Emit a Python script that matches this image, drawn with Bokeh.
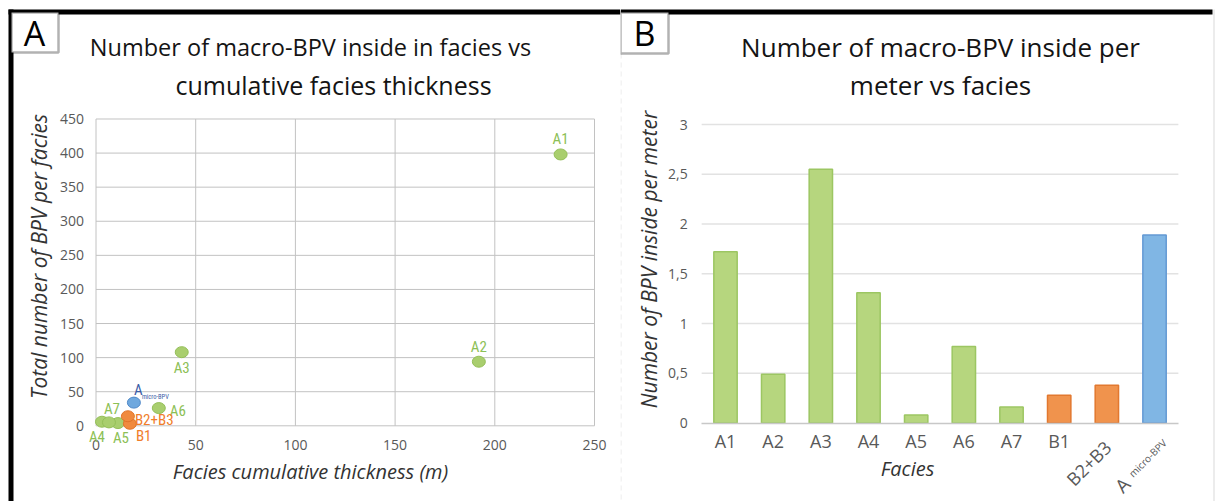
from bokeh.plotting import figure
from bokeh.layouts import row
from bokeh.models import (ColumnDataSource, Label, BoxAnnotation, FixedTicker,
                          Range1d, CustomJSTickFormatter)
from bokeh.embed import file_html
from bokeh.resources import INLINE

# ---------------- data ----------------
# Panel A : total number of macro-BPV vs cumulative facies thickness
facies_a = ["A1", "A2", "A3", "A4", "A5", "A6", "A7", "B1", "B2+B3", "A"]
thickness_m = [233, 192, 43, 3, 11, 31.5, 6.5, 17, 16, 19]
bpv_total = [398, 94, 108, 6, 4, 26, 5, 3, 14, 34]
group_a = ["A", "A", "A", "A", "A", "A", "A", "B", "B", "micro"]

# Panel B : number of macro-BPV per meter, by facies
facies_b = ["A1", "A2", "A3", "A4", "A5", "A6", "A7", "B1", "B2+B3", "A micro-BPV"]
bpv_per_meter = [1.72, 0.49, 2.55, 1.31, 0.08, 0.77, 0.16, 0.28, 0.38, 1.89]
group_b = ["A", "A", "A", "A", "A", "A", "A", "B", "B", "micro"]

x_ticks_a = [0, 50, 100, 150, 200, 250]
y_ticks_a = [0, 50, 100, 150, 200, 250, 300, 350, 400, 450]
y_ticks_b = [0, 0.5, 1, 1.5, 2, 2.5, 3]

title_a = ["Number of macro-BPV inside in facies vs", "cumulative facies thickness"]
title_b = ["Number of macro-BPV inside per", "meter vs facies"]
xlabel_a = "Facies cumulative thickness (m)"
ylabel_a = "Total number of BPV per facies"
xlabel_b = "Facies"
ylabel_b = "Number of BPV inside per meter"

# ---------------- styles ----------------
FONT = "'Open Sans', 'Noto Sans', sans-serif"
NARROW = "'Liberation Sans Narrow', 'Roboto Condensed', 'Open Sans', sans-serif"
BAR_FILL = {"A": "#B6D67E", "B": "#F0934D", "micro": "#80B6E4"}
BAR_LINE = {"A": "#9CC662", "B": "#E2782F", "micro": "#6399D4"}
PT_FILL = {"A": "#A9CE6E", "B": "#F08A3E", "micro": "#6FA8DE"}
PT_LINE = {"A": "#94BF58", "B": "#E0742A", "micro": "#4F88C8"}
TXT = {"A": "#8CC056", "B": "#F07D2A", "micro": "#3B5CA6"}
GRID_A = "#C2C2C2"
GRID_B = "#E2E2E2"
AXIS_B = "#C8C8C8"
TICK_COL = "#595959"
AXLAB_COL = "#333333"
TITLE_COL = "#141414"

# label placement for scatter points: dx, dy (px, dy up), align
PT_LABEL = {
    "A1": (0, 15, "center"),
    "A2": (0, 15, "center"),
    "A3": (0, -16, "center"),
    "A4": (-5, -15, "center"),
    "A5": (3, -15, "center"),
    "A6": (11, -3, "left"),
    "A7": (3, 13, "center"),
    "B1": (6, -12, "left"),
    "B2+B3": (7, -4, "left"),
    "A": (0, 13, "left"),
}

W_A, W_B, H = 620, 595, 501
# pixel anchors of the plot areas (page px)
A_X0, A_XS = 95.5, 1.994      # x=0 position, px per m
A_Y0, A_YS = 425.3, 0.6818    # y=0 position, px per BPV
B_X0, B_XS = 105.0, 47.67     # first category centre (in panel-B canvas), px per category
B_Y0, B_YS = 422.5, 99.5      # y=0 position, px per unit


def canvas_box(p, left, right, top, bottom, **kw):
    p.add_layout(BoxAnnotation(left=left, right=right, top=top, bottom=bottom,
                               left_units="canvas", right_units="canvas",
                               top_units="canvas", bottom_units="canvas", **kw))


def canvas_text(p, x, y, text, size, color=TITLE_COL, font=FONT, style="normal",
                angle=0, align="center"):
    p.add_layout(Label(x=x, y=y, x_units="canvas", y_units="canvas", text=text,
                       text_font=font, text_font_size=size, text_color=color,
                       text_font_style=style, angle=angle, angle_units="deg",
                       text_align=align, text_baseline="middle"))


def bare_figure(w, x_range, y_range):
    p = figure(width=w, height=H, x_range=x_range, y_range=y_range,
               output_backend="svg", toolbar_location=None,
               min_border_left=0, min_border_right=0, min_border_top=0, min_border_bottom=0)
    p.outline_line_color = None
    p.grid.visible = False
    p.background_fill_color = "white"
    p.border_fill_color = "white"
    return p


# ================= Panel A =================
pa = bare_figure(W_A,
                 Range1d(-A_X0 / A_XS, (W_A - A_X0) / A_XS),
                 Range1d(-(H - A_Y0) / A_YS, A_Y0 / A_YS))

# grid lines (including plot-area border) from tick lists
pa.segment(x0=x_ticks_a, y0=y_ticks_a[0], x1=x_ticks_a, y1=y_ticks_a[-1],
           line_color=GRID_A, line_width=1)
pa.segment(x0=x_ticks_a[0], y0=y_ticks_a, x1=x_ticks_a[-1], y1=y_ticks_a,
           line_color=GRID_A, line_width=1)

for ax in (pa.xaxis[0], pa.yaxis[0]):
    ax.fixed_location = 0
    ax.axis_line_color = None
    ax.major_tick_line_color = None
    ax.minor_tick_line_color = None
    ax.major_tick_out = 0
    ax.major_tick_in = 0
    ax.major_label_text_font = FONT
    ax.major_label_text_font_size = "14px"
    ax.major_label_text_color = TICK_COL
pa.xaxis.ticker = FixedTicker(ticks=x_ticks_a)
pa.yaxis.ticker = FixedTicker(ticks=y_ticks_a)
pa.xaxis.major_label_standoff = 14
pa.yaxis.major_label_standoff = 12

src_a = ColumnDataSource(dict(x=thickness_m, y=bpv_total,
                              fill=[PT_FILL[g] for g in group_a],
                              line=[PT_LINE[g] for g in group_a]))
pa.ellipse(x="x", y="y", width=13, height=11, width_units="screen", height_units="screen",
           fill_color="fill", line_color="line", line_width=1, source=src_a)

for name, xv, yv, g in zip(facies_a, thickness_m, bpv_total, group_a):
    dx, dy, al = PT_LABEL[name]
    pa.add_layout(Label(x=xv, y=yv, x_offset=dx, y_offset=dy, text=name,
                        text_font=NARROW, text_font_size="15px", text_color=TXT[g],
                        text_align=al, text_baseline="alphabetic"))
    if g == "micro":
        pa.add_layout(Label(x=xv, y=yv, x_offset=dx + 8, y_offset=6, text="micro-BPV",
                            text_font=NARROW, text_font_size="6.5px", text_color=TXT[g],
                            text_align="left", text_baseline="alphabetic"))

# frame decorations, titles and axis titles of panel A
canvas_box(pa, 8, W_A, 9, 14, fill_color="black", fill_alpha=1, line_alpha=0)
canvas_box(pa, 8, 13, 9, H, fill_color="black", fill_alpha=1, line_alpha=0)
canvas_box(pa, 11, 58, 12, 52, fill_color="white", fill_alpha=1, line_color="black",
           line_width=2.5)
canvas_text(pa, 34, 32, "A", "34px", color="black")
canvas_text(pa, 310, 46, title_a[0], "23.5px")
canvas_text(pa, 333, 84, title_a[1], "25px")
canvas_text(pa, 310, 471, xlabel_a, "20px", color=AXLAB_COL, style="italic")
canvas_text(pa, 38, 256, ylabel_a, "21px", color=AXLAB_COL, style="italic", angle=90)

# ================= Panel B =================
xpos_b = list(range(len(facies_b)))
pb = bare_figure(W_B,
                 Range1d(-B_X0 / B_XS, (W_B - B_X0) / B_XS),
                 Range1d(-(H - B_Y0) / B_YS, B_Y0 / B_YS))

# horizontal grid lines across the category band
pb.segment(x0=xpos_b[0] - 0.5, y0=y_ticks_b[1:], x1=xpos_b[-1] + 0.5, y1=y_ticks_b[1:],
           line_color=GRID_B, line_width=1.5)

pb.vbar(x=xpos_b, top=bpv_per_meter, width=0.49, bottom=0,
        fill_color=[BAR_FILL[g] for g in group_b], line_color=[BAR_LINE[g] for g in group_b],
        line_width=1.5)

pb.xaxis.fixed_location = 0
pb.yaxis.fixed_location = xpos_b[0] - 0.5
pb.xaxis.bounds = (xpos_b[0] - 0.5, xpos_b[-1] + 0.5)
pb.xaxis.axis_line_color = AXIS_B
pb.xaxis.axis_line_width = 1.5
pb.yaxis.axis_line_color = None
for ax in (pb.xaxis[0], pb.yaxis[0]):
    ax.major_tick_line_color = None
    ax.minor_tick_line_color = None
    ax.major_tick_out = 0
    ax.major_tick_in = 0
    ax.major_label_text_font = FONT
    ax.major_label_text_color = TICK_COL
pb.yaxis.ticker = FixedTicker(ticks=y_ticks_b)
pb.yaxis.formatter = CustomJSTickFormatter(code="return tick.toString().replace('.', ',')")
pb.yaxis.major_label_text_font_size = "14px"
pb.yaxis.major_label_standoff = 14
# horizontal category labels (the last two are drawn rotated below)
n_flat = 8
pb.xaxis.ticker = FixedTicker(ticks=xpos_b[:n_flat])
pb.xaxis.formatter = CustomJSTickFormatter(args=dict(names=facies_b),
                                           code="return names[Math.round(tick)]")
pb.xaxis.major_label_text_font_size = "18px"
pb.xaxis.major_label_standoff = 6

# rotated category labels
pb.add_layout(Label(x=xpos_b[8], y=0, x_offset=1, y_offset=-21, text=facies_b[8],
                    angle=45, angle_units="deg", text_font=FONT, text_font_size="18px",
                    text_color=TICK_COL, text_align="right", text_baseline="middle"))
pb.add_layout(Label(x=xpos_b[9], y=0, x_offset=10, y_offset=-18, text="micro-BPV",
                    angle=45, angle_units="deg", text_font=FONT, text_font_size="10px",
                    text_color=TICK_COL, text_align="right", text_baseline="middle"))
pb.add_layout(Label(x=xpos_b[9], y=0, x_offset=-32, y_offset=-62, text="A",
                    angle=45, angle_units="deg", text_font=FONT, text_font_size="19px",
                    text_color=TICK_COL, text_align="center", text_baseline="middle"))

# frame decorations, titles and axis titles of panel B
canvas_box(pb, 0, W_B - 3, 9, 14, fill_color="black", fill_alpha=1, line_alpha=0)
canvas_box(pb, 0.5, 0.5, 53, H, fill_alpha=0, line_color="#BDBDBD", line_width=1.2,
           line_dash="5 4")
canvas_box(pb, W_B - 2, W_B - 1, 9, H, fill_color="#DADADA", fill_alpha=1, line_alpha=0)
canvas_box(pb, 0, 48, 12, 53, fill_color="white", fill_alpha=1, line_color="black",
           line_width=2.5)
canvas_text(pb, 24, 32, "B", "34px", color="black")
canvas_text(pb, 320, 46, title_b[0], "26px")
canvas_text(pb, 320, 84, title_b[1], "26px")
canvas_text(pb, 287, 468, xlabel_b, "20px", color=AXLAB_COL, style="italic")
canvas_text(pb, 28, 259, ylabel_b, "21px", color=AXLAB_COL, style="italic", angle=90)

layout = row(pa, pb, spacing=0)
open("out.html", "w").write(file_html(layout, INLINE))
